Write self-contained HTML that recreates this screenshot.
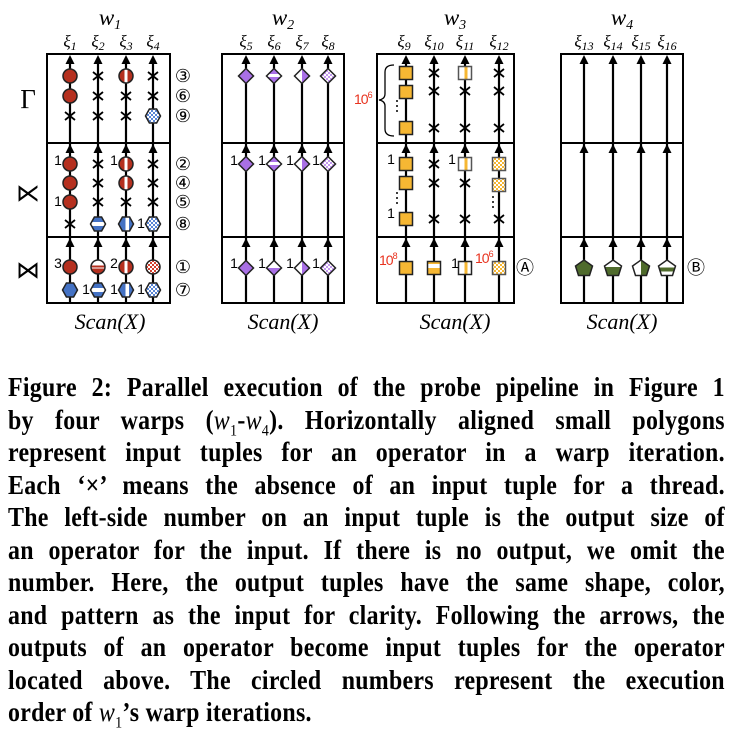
<!DOCTYPE html>
<html><head><meta charset="utf-8"><style>
html,body{margin:0;padding:0;background:#fff;width:733px;height:729px;overflow:hidden}
svg{position:absolute;left:0;top:0}
.cap{position:absolute;left:8px;width:810px;transform:scaleX(0.885);transform-origin:0 0;font-family:"Liberation Serif",serif;font-weight:bold;font-size:27px;text-align:justify;text-align-last:justify;white-space:nowrap;line-height:32.5px;letter-spacing:0.3px}
.cap i{font-weight:normal}
.cap sub{font-weight:normal;font-size:16px}
</style></head><body>
<svg width="733" height="360" viewBox="0 0 733 360" xmlns="http://www.w3.org/2000/svg">
<defs>
<linearGradient id="rH" x1="0" y1="0" x2="0" y2="1"><stop offset="0" stop-color="#fff"/><stop offset=".38" stop-color="#fff"/><stop offset=".38" stop-color="#b5301f"/><stop offset=".52" stop-color="#b5301f"/><stop offset=".52" stop-color="#fff"/><stop offset=".6" stop-color="#fff"/><stop offset=".6" stop-color="#b5301f"/><stop offset="1" stop-color="#b5301f"/></linearGradient>
<linearGradient id="rV" x1="0" y1="0" x2="1" y2="0"><stop offset="0" stop-color="#b5301f"/><stop offset=".4" stop-color="#b5301f"/><stop offset=".4" stop-color="#fff"/><stop offset=".6" stop-color="#fff"/><stop offset=".6" stop-color="#b5301f"/><stop offset="1" stop-color="#b5301f"/></linearGradient>
<linearGradient id="bH" x1="0" y1="0" x2="0" y2="1"><stop offset="0" stop-color="#4472c4"/><stop offset=".35" stop-color="#4472c4"/><stop offset=".35" stop-color="#fff"/><stop offset=".65" stop-color="#fff"/><stop offset=".65" stop-color="#4472c4"/><stop offset="1" stop-color="#4472c4"/></linearGradient>
<linearGradient id="bV" x1="0" y1="0" x2="1" y2="0"><stop offset="0" stop-color="#4472c4"/><stop offset=".45" stop-color="#4472c4"/><stop offset=".45" stop-color="#fff"/><stop offset=".7" stop-color="#fff"/><stop offset=".7" stop-color="#4472c4"/><stop offset="1" stop-color="#4472c4"/></linearGradient>
<linearGradient id="pH" x1="0" y1="0" x2="0" y2="1"><stop offset="0" stop-color="#a970e6"/><stop offset=".35" stop-color="#a970e6"/><stop offset=".35" stop-color="#fff"/><stop offset=".55" stop-color="#fff"/><stop offset=".55" stop-color="#a970e6"/><stop offset="1" stop-color="#a970e6"/></linearGradient>
<linearGradient id="pB" x1="0" y1="0" x2="0" y2="1"><stop offset="0" stop-color="#fff"/><stop offset=".5" stop-color="#fff"/><stop offset=".5" stop-color="#a970e6"/><stop offset="1" stop-color="#a970e6"/></linearGradient>
<linearGradient id="pV" x1="0" y1="0" x2="1" y2="0"><stop offset="0" stop-color="#fff"/><stop offset=".5" stop-color="#fff"/><stop offset=".5" stop-color="#a970e6"/><stop offset="1" stop-color="#a970e6"/></linearGradient>
<linearGradient id="yH" x1="0" y1="0" x2="0" y2="1"><stop offset="0" stop-color="#f6b733"/><stop offset=".2" stop-color="#f6b733"/><stop offset=".2" stop-color="#fff"/><stop offset=".5" stop-color="#fff"/><stop offset=".5" stop-color="#f6b733"/><stop offset="1" stop-color="#f6b733"/></linearGradient>
<linearGradient id="yV" x1="0" y1="0" x2="1" y2="0"><stop offset="0" stop-color="#fff"/><stop offset=".45" stop-color="#fff"/><stop offset=".45" stop-color="#f6b733"/><stop offset=".7" stop-color="#f6b733"/><stop offset=".7" stop-color="#fff"/><stop offset="1" stop-color="#fff"/></linearGradient>
<linearGradient id="gT" x1="0" y1="0" x2="0" y2="1"><stop offset="0" stop-color="#fff"/><stop offset=".45" stop-color="#fff"/><stop offset=".45" stop-color="#4f6b2c"/><stop offset="1" stop-color="#4f6b2c"/></linearGradient>
<linearGradient id="gV" x1="0" y1="0" x2="1" y2="0"><stop offset="0" stop-color="#fff"/><stop offset=".5" stop-color="#fff"/><stop offset=".5" stop-color="#4f6b2c"/><stop offset="1" stop-color="#4f6b2c"/></linearGradient>
<linearGradient id="gB" x1="0" y1="0" x2="0" y2="1"><stop offset="0" stop-color="#fff"/><stop offset=".5" stop-color="#fff"/><stop offset=".5" stop-color="#4f6b2c"/><stop offset=".75" stop-color="#4f6b2c"/><stop offset=".75" stop-color="#fff"/><stop offset="1" stop-color="#fff"/></linearGradient>
<pattern id="rC" width="4" height="4" patternUnits="userSpaceOnUse"><rect width="4" height="4" fill="#fff"/><rect width="2" height="2" fill="#d2402e"/><rect x="2" y="2" width="2" height="2" fill="#d2402e"/></pattern>
<pattern id="bC" width="4" height="4" patternUnits="userSpaceOnUse"><rect width="4" height="4" fill="#fff"/><rect width="2" height="2" fill="#5a86d6"/><rect x="2" y="2" width="2" height="2" fill="#5a86d6"/></pattern>
<pattern id="pC" width="4" height="4" patternUnits="userSpaceOnUse"><rect width="4" height="4" fill="#fff"/><rect width="2" height="2" fill="#c49af0"/><rect x="2" y="2" width="2" height="2" fill="#c49af0"/></pattern>
<pattern id="yC" width="4" height="4" patternUnits="userSpaceOnUse"><rect width="4" height="4" fill="#fff"/><rect width="2" height="2" fill="#f6b733"/><rect x="2" y="2" width="2" height="2" fill="#f6b733"/></pattern>
<path id="ah" d="M-4.5 9 L4.5 9 L0 0 Z"/>
<path id="x" d="M-5 -4 L5 4 M-5 4 L5 -4" stroke="#000" stroke-width="1.8" fill="none"/>
<path id="hex" d="M-3.6 -7 L3.6 -7 L7.5 0 L3.6 7 L-3.6 7 L-7.5 0 Z"/>
<path id="dia" d="M0 -7.5 L7.5 0 L0 7.5 L-7.5 0 Z"/>
<path id="pent" d="M0 -8 L8.5 -2 L5.5 7.5 L-5.5 7.5 L-8.5 -2 Z"/>
</defs>
<g font-family="Liberation Serif,serif" font-style="italic" text-anchor="middle">
<text x="110" y="25" font-size="23">w<tspan font-size="14" dy="4">1</tspan></text>
<text x="283" y="25" font-size="23">w<tspan font-size="14" dy="4">2</tspan></text>
<text x="455" y="25" font-size="23">w<tspan font-size="14" dy="4">3</tspan></text>
<text x="622" y="25" font-size="23">w<tspan font-size="14" dy="4">4</tspan></text>
<g font-size="17">
<text x="70" y="47">ξ<tspan font-size="12" dy="3">1</tspan></text>
<text x="98" y="47">ξ<tspan font-size="12" dy="3">2</tspan></text>
<text x="126" y="47">ξ<tspan font-size="12" dy="3">3</tspan></text>
<text x="153" y="47">ξ<tspan font-size="12" dy="3">4</tspan></text>
<text x="246" y="47">ξ<tspan font-size="12" dy="3">5</tspan></text>
<text x="274" y="47">ξ<tspan font-size="12" dy="3">6</tspan></text>
<text x="302" y="47">ξ<tspan font-size="12" dy="3">7</tspan></text>
<text x="328" y="47">ξ<tspan font-size="12" dy="3">8</tspan></text>
<text x="404" y="47">ξ<tspan font-size="12" dy="3">9</tspan></text>
<text x="434" y="47">ξ<tspan font-size="12" dy="3">10</tspan></text>
<text x="465" y="47">ξ<tspan font-size="12" dy="3">11</tspan></text>
<text x="499" y="47">ξ<tspan font-size="12" dy="3">12</tspan></text>
<text x="584" y="47">ξ<tspan font-size="12" dy="3">13</tspan></text>
<text x="613" y="47">ξ<tspan font-size="12" dy="3">14</tspan></text>
<text x="641" y="47">ξ<tspan font-size="12" dy="3">15</tspan></text>
<text x="667" y="47">ξ<tspan font-size="12" dy="3">16</tspan></text>
</g>
<g font-size="22">
<text x="110" y="329">Scan(X)</text>
<text x="283" y="329">Scan(X)</text>
<text x="455" y="329">Scan(X)</text>
<text x="622" y="329">Scan(X)</text>
</g>
</g>
<text x="28" y="108" font-size="27" font-family="Liberation Serif,serif" text-anchor="middle">Γ</text>
<g font-family="DejaVu Sans,sans-serif" text-anchor="middle">
<text x="28" y="201" font-size="24">⋉</text>
<text x="28" y="278" font-size="24">⋈</text>
</g>
<g fill="none" stroke="#000" stroke-width="2">
<rect x="47" y="54" width="123" height="249"/><line x1="47" y1="143" x2="170" y2="143"/><line x1="47" y1="237" x2="170" y2="237"/>
<rect x="222" y="54" width="122" height="249"/><line x1="222" y1="143" x2="344" y2="143"/><line x1="222" y1="237" x2="344" y2="237"/>
<rect x="377" y="54" width="137" height="249"/><line x1="377" y1="143" x2="514" y2="143"/><line x1="377" y1="237" x2="514" y2="237"/>
<rect x="561" y="54" width="122" height="249"/><line x1="561" y1="143" x2="683" y2="143"/><line x1="561" y1="237" x2="683" y2="237"/>
</g>
<g stroke="#000" stroke-width="2.2">
<line x1="70" y1="303" x2="70" y2="60"/><line x1="98" y1="303" x2="98" y2="60"/><line x1="126" y1="303" x2="126" y2="60"/><line x1="153" y1="303" x2="153" y2="60"/>
<line x1="246" y1="303" x2="246" y2="60"/><line x1="274" y1="303" x2="274" y2="60"/><line x1="302" y1="303" x2="302" y2="60"/><line x1="328" y1="303" x2="328" y2="60"/>
<line x1="406" y1="303" x2="406" y2="60"/><line x1="434" y1="303" x2="434" y2="60"/><line x1="465" y1="303" x2="465" y2="60"/><line x1="499" y1="303" x2="499" y2="60"/>
<line x1="584" y1="303" x2="584" y2="60"/><line x1="613" y1="303" x2="613" y2="60"/><line x1="641" y1="303" x2="641" y2="60"/><line x1="667" y1="303" x2="667" y2="60"/>
</g>
<g fill="#000">
<use href="#ah" x="70" y="55"/><use href="#ah" x="98" y="55"/><use href="#ah" x="126" y="55"/><use href="#ah" x="153" y="55"/>
<use href="#ah" x="70" y="144"/><use href="#ah" x="98" y="144"/><use href="#ah" x="126" y="144"/><use href="#ah" x="153" y="144"/>
<use href="#ah" x="70" y="238"/><use href="#ah" x="98" y="238"/><use href="#ah" x="126" y="238"/><use href="#ah" x="153" y="238"/>
<use href="#ah" x="246" y="55"/><use href="#ah" x="274" y="55"/><use href="#ah" x="302" y="55"/><use href="#ah" x="328" y="55"/>
<use href="#ah" x="246" y="144"/><use href="#ah" x="274" y="144"/><use href="#ah" x="302" y="144"/><use href="#ah" x="328" y="144"/>
<use href="#ah" x="246" y="238"/><use href="#ah" x="274" y="238"/><use href="#ah" x="302" y="238"/><use href="#ah" x="328" y="238"/>
<use href="#ah" x="406" y="55"/><use href="#ah" x="434" y="55"/><use href="#ah" x="465" y="55"/><use href="#ah" x="499" y="55"/>
<use href="#ah" x="406" y="144"/><use href="#ah" x="434" y="144"/><use href="#ah" x="465" y="144"/><use href="#ah" x="499" y="144"/>
<use href="#ah" x="406" y="238"/><use href="#ah" x="434" y="238"/><use href="#ah" x="465" y="238"/><use href="#ah" x="499" y="238"/>
<use href="#ah" x="584" y="55"/><use href="#ah" x="613" y="55"/><use href="#ah" x="641" y="55"/><use href="#ah" x="667" y="55"/>
<use href="#ah" x="584" y="144"/><use href="#ah" x="613" y="144"/><use href="#ah" x="641" y="144"/><use href="#ah" x="667" y="144"/>
<use href="#ah" x="584" y="238"/><use href="#ah" x="613" y="238"/><use href="#ah" x="641" y="238"/><use href="#ah" x="667" y="238"/>
</g>
<g>
<use href="#x" x="70" y="116"/><use href="#x" x="98" y="76"/><use href="#x" x="98" y="96"/><use href="#x" x="98" y="116"/>
<use href="#x" x="126" y="96"/><use href="#x" x="126" y="116"/><use href="#x" x="153" y="76"/><use href="#x" x="153" y="96"/>
<use href="#x" x="70" y="224"/><use href="#x" x="98" y="164"/><use href="#x" x="98" y="183"/><use href="#x" x="98" y="202"/>
<use href="#x" x="126" y="202"/><use href="#x" x="153" y="164"/><use href="#x" x="153" y="183"/><use href="#x" x="153" y="202"/>
<use href="#x" x="434" y="73"/><use href="#x" x="434" y="91"/><use href="#x" x="434" y="128"/>
<use href="#x" x="465" y="91"/><use href="#x" x="465" y="128"/>
<use href="#x" x="499" y="73"/><use href="#x" x="499" y="91"/><use href="#x" x="499" y="128"/>
<use href="#x" x="434" y="164"/><use href="#x" x="434" y="183"/><use href="#x" x="434" y="219"/>
<use href="#x" x="465" y="183"/><use href="#x" x="465" y="219"/><use href="#x" x="499" y="219"/>
</g>
<g stroke="#222" stroke-width="1.5">
<circle cx="70" cy="76" r="7" fill="#b5301f"/><circle cx="70" cy="96" r="7" fill="#b5301f"/>
<circle cx="126" cy="76" r="7" fill="url(#rV)"/>
<use href="#hex" x="153" y="116" fill="url(#bC)"/>
<circle cx="70" cy="164" r="7" fill="#b5301f"/><circle cx="70" cy="183" r="7" fill="#b5301f"/><circle cx="70" cy="202" r="7" fill="#b5301f"/>
<circle cx="126" cy="164" r="7" fill="url(#rV)"/><circle cx="126" cy="183" r="7" fill="url(#rV)"/>
<use href="#hex" x="98" y="224" fill="url(#bH)"/><use href="#hex" x="126" y="224" fill="url(#bV)"/><use href="#hex" x="153" y="224" fill="url(#bC)"/>
<circle cx="70" cy="267" r="7" fill="#b5301f"/><circle cx="98" cy="267" r="7" fill="url(#rH)"/><circle cx="126" cy="267" r="7" fill="url(#rV)"/><circle cx="153" cy="267" r="7" fill="url(#rC)"/>
<use href="#hex" x="70" y="290" fill="#4472c4"/><use href="#hex" x="98" y="290" fill="url(#bH)"/><use href="#hex" x="126" y="290" fill="url(#bV)"/><use href="#hex" x="153" y="290" fill="url(#bC)"/>
<use href="#dia" x="246" y="76" fill="#a970e6"/><use href="#dia" x="274" y="76" fill="url(#pH)"/><use href="#dia" x="302" y="76" fill="url(#pV)"/><use href="#dia" x="328" y="76" fill="url(#pC)"/>
<use href="#dia" x="246" y="164" fill="#a970e6"/><use href="#dia" x="274" y="164" fill="url(#pH)"/><use href="#dia" x="302" y="164" fill="url(#pV)"/><use href="#dia" x="328" y="164" fill="url(#pC)"/>
<use href="#dia" x="246" y="268" fill="#a970e6"/><use href="#dia" x="274" y="268" fill="url(#pB)"/><use href="#dia" x="302" y="268" fill="url(#pV)"/><use href="#dia" x="328" y="268" fill="url(#pC)"/>
<rect x="399.5" y="66.5" width="13" height="13" fill="#f6b733"/><rect x="399.5" y="85.5" width="13" height="13" fill="#f6b733"/><rect x="399.5" y="121.5" width="13" height="13" fill="#f6b733"/>
<rect x="458.5" y="66.5" width="13" height="13" fill="url(#yV)" stroke="#555"/>
<rect x="399.5" y="157.5" width="13" height="13" fill="#f6b733"/><rect x="399.5" y="176.5" width="13" height="13" fill="#f6b733"/><rect x="399.5" y="212.5" width="13" height="13" fill="#f6b733"/>
<rect x="458.5" y="157.5" width="13" height="13" fill="url(#yV)" stroke="#555"/>
<rect x="492.5" y="157.5" width="13" height="13" fill="url(#yC)" stroke="#555"/><rect x="492.5" y="178.5" width="13" height="13" fill="url(#yC)" stroke="#555"/>
<rect x="399.5" y="261.5" width="13" height="13" fill="#f6b733"/><rect x="427.5" y="261.5" width="13" height="13" fill="url(#yH)"/><rect x="458.5" y="261.5" width="13" height="13" fill="url(#yV)"/><rect x="492.5" y="261.5" width="13" height="13" fill="url(#yC)" stroke="#555"/>
<use href="#pent" x="584" y="268" fill="#4f6b2c"/><use href="#pent" x="613" y="268" fill="url(#gT)"/><use href="#pent" x="641" y="268" fill="url(#gV)"/><use href="#pent" x="667" y="268" fill="url(#gB)"/>
</g>
<g fill="#000"><circle cx="397" cy="101" r="1"/><circle cx="397" cy="106" r="1"/><circle cx="397" cy="111" r="1"/>
<circle cx="397" cy="193" r="1"/><circle cx="397" cy="198" r="1"/><circle cx="397" cy="203" r="1"/>
<circle cx="493" cy="197" r="1"/><circle cx="493" cy="202" r="1"/><circle cx="493" cy="207" r="1"/></g>
<path d="M394 65 Q385 65 385 72 L385 94 Q385 99 379 100 Q385 101 385 106 L385 129 Q385 136 394 136" fill="none" stroke="#000" stroke-width="1.3"/>
<g font-family="Liberation Sans,sans-serif" font-size="14" text-anchor="middle" fill="#000">
<text x="58" y="165">1</text><text x="58" y="206">1</text><text x="114" y="165">1</text><text x="141" y="228">1</text>
<text x="58" y="268">3</text><text x="114" y="268">2</text><text x="86" y="294">1</text><text x="114" y="294">1</text><text x="141" y="294">1</text>
<text x="234" y="165">1</text><text x="262" y="165">1</text><text x="290" y="165">1</text><text x="316" y="165">1</text>
<text x="234" y="268">1</text><text x="262" y="268">1</text><text x="290" y="268">1</text><text x="316" y="268">1</text>
<text x="391" y="164">1</text><text x="391" y="218">1</text><text x="452" y="164">1</text><text x="455" y="268">1</text>
</g>
<g font-family="Liberation Sans,sans-serif" font-size="14" fill="#e8321e" letter-spacing="-1">
<text x="354" y="104">10<tspan font-size="9" dy="-6">6</tspan></text>
<text x="379" y="265">10<tspan font-size="9" dy="-6">8</tspan></text>
<text x="475" y="263">10<tspan font-size="9" dy="-6">6</tspan></text>
</g>
<g font-family="DejaVu Sans,sans-serif" font-size="18" text-anchor="middle">
<text x="183" y="82">③</text><text x="183" y="102">⑥</text><text x="183" y="122">⑨</text>
<text x="183" y="170">②</text><text x="183" y="189">④</text><text x="183" y="208">⑤</text><text x="183" y="230">⑧</text>
<text x="183" y="273">①</text><text x="183" y="296">⑦</text>
<text x="525" y="274">Ⓐ</text><text x="696" y="274">Ⓑ</text>
</g>
</svg>
<div class="cap" style="top:371px">Figure 2: Parallel execution of the probe pipeline in Figure 1</div>
<div class="cap" style="top:403.5px">by four warps (<i>w</i><sub>1</sub>-<i>w</i><sub>4</sub>). Horizontally aligned small polygons</div>
<div class="cap" style="top:436px">represent input tuples for an operator in a warp iteration.</div>
<div class="cap" style="top:468.5px">Each ‘×’ means the absence of an input tuple for a thread.</div>
<div class="cap" style="top:501px">The left-side number on an input tuple is the output size of</div>
<div class="cap" style="top:533.5px">an operator for the input. If there is no output, we omit the</div>
<div class="cap" style="top:566px">number. Here, the output tuples have the same shape, color,</div>
<div class="cap" style="top:598.5px">and pattern as the input for clarity. Following the arrows, the</div>
<div class="cap" style="top:631px">outputs of an operator become input tuples for the operator</div>
<div class="cap" style="top:663.5px">located above. The circled numbers represent the execution</div>
<div class="cap" style="top:696px;text-align-last:left">order of <i>w</i><sub>1</sub>’s warp iterations.</div>
</body></html>
